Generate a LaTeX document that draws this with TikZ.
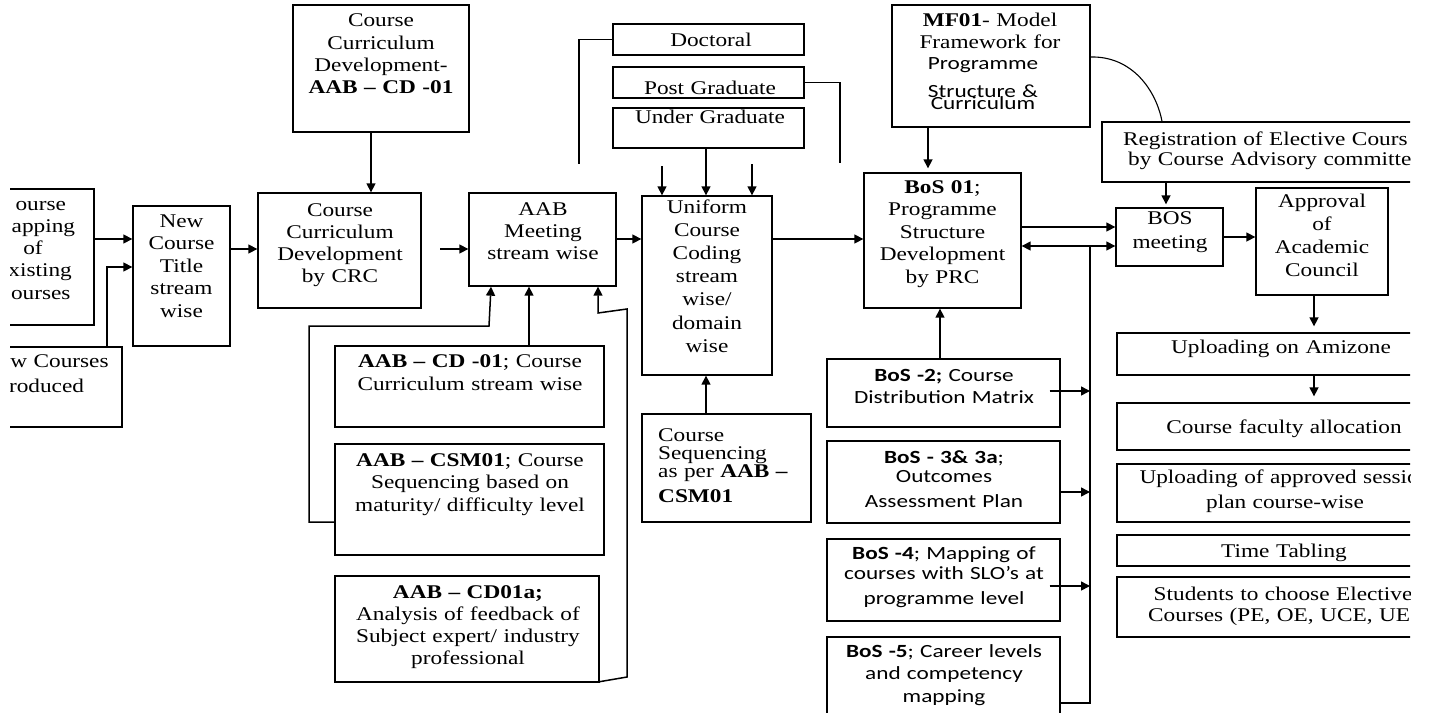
\documentclass[tikz,border=0pt]{standalone}
\usepackage{fontspec}
\setmainfont{Liberation Serif}[FakeStretch=1.2]
\newfontfamily\sansfam{Carlito}[FakeStretch=1.25]
\usetikzlibrary{arrows.meta,fit}
\begin{document}
\begin{tikzpicture}[x=1pt,y=-1pt,
  box/.style={draw, line width=1.35pt, inner sep=0pt, rectangle},
  txt/.style={anchor=base, inner sep=0pt, align=center, text width=330pt,
    font=\fontsize{19.4}{22}\selectfont},
  ltxt/.style={anchor=base west, inner sep=0pt, align=left, text width=200pt,
    font=\fontsize{19.4}{22}\selectfont},
  stxt/.style={anchor=base, inner sep=0pt, align=center, text width=300pt,
    font=\sansfam\fontsize{18.6}{22.5}\selectfont},
  ln/.style={line width=1.5pt},
  arr/.style={line width=1.5pt, -{Triangle[length=9pt,width=9pt]}},
]
\useasboundingbox (0,0) rectangle (1434,712);
\begin{scope}
\clip (10,-20) rectangle (1410,712);

% ---------- boxes ----------
\node[box, fit={(-20,189) (94,325)}]   (lb1)   {};
\node[box, fit={(-20,347) (122,427)}]  (wc)    {};
\node[box, fit={(133,206) (230,346)}]  (newc)  {};
\node[box, fit={(293,5) (469,132)}]    (cdtop) {};
\node[box, fit={(258,193) (421,308)}]  (crc)   {};
\node[box, fit={(469,193) (616,286)}]  (aabm)  {};
\node[box, fit={(335,346) (604,427)}]  (cd01)  {};
\node[box, fit={(335,444) (604,555)}]  (csm)   {};
\node[box, fit={(335,576) (599,682)}]  (cd01a) {};
\node[box, fit={(613,24) (804,55)}]    (doct)  {};
\node[box, fit={(613,67) (804,98)}]    (pg)    {};
\node[box, fit={(613,108) (804,148)}]  (ug)    {};
\node[box, fit={(642,196) (772,375)}]  (unif)  {};
\node[box, fit={(642,414) (811,522)}]  (cseq)  {};
\node[box, fit={(864,173) (1021,308)}] (bos01) {};
\node[box, fit={(892,5) (1090,127)}]   (mf01)  {};
\node[box, fit={(827,359) (1060,427)}] (bos2)  {};
\node[box, fit={(827,441) (1060,523)}] (bos3)  {};
\node[box, fit={(827,539) (1060,621)}] (bos4)  {};
\node[box, fit={(827,637) (1060,740)}] (bos5)  {};
\node[box, fit={(1102,122) (1450,182)}] (reg)  {};
\node[box, fit={(1116,208) (1223,266)}] (bosm) {};
\node[box, fit={(1256,188) (1388,295)}] (appr) {};
\node[box, fit={(1117,333) (1450,375)}] (upl)  {};
\node[box, fit={(1117,403) (1450,450)}] (fac)  {};
\node[box, fit={(1117,464) (1450,522)}] (sess) {};
\node[box, fit={(1117,535) (1450,566)}] (tt)   {};
\node[box, fit={(1117,577) (1450,637)}] (stud) {};

% ---------- texts ----------
\node[txt, font=\fontsize{19.4}{22.3}\selectfont] (lb1-t) at (33,210)
  {\phantom{C}ourse\\\phantom{M}apping\\of\\\phantom{E}xisting\\\phantom{C}ourses};
\node[ltxt, font=\fontsize{19.4}{25}\selectfont] (wc-t) at (-17,367)
  {\phantom{Ne}w Courses\\\phantom{Int}roduced};
\node[txt, font=\fontsize{19.4}{22.5}\selectfont] (newc-t) at (181.5,227)
  {New\\Course\\Title\\stream\\wise};
\node[txt, font=\fontsize{19.4}{22.3}\selectfont] (cdtop-t) at (381,27)
  {Course\\Curriculum\\Development-\\\textbf{AAB – CD -01}};
\node[txt, font=\fontsize{19.4}{22.3}\selectfont] (crc-t) at (340,216)
  {Course\\Curriculum\\Development\\by CRC};
\node[txt] (aabm-t) at (543,215) {AAB\\Meeting\\stream wise};
\node[txt, font=\fontsize{19.4}{23}\selectfont] (cd01-t) at (470,367)
  {\textbf{AAB – CD -01}; Course\\Curriculum stream wise};
\node[txt, font=\fontsize{19.4}{22.5}\selectfont] (csm-t) at (470,466)
  {\textbf{AAB – CSM01}; Course\\Sequencing based on\\maturity/ difficulty level};
\node[txt] (cd01a-t) at (468,598)
  {\textbf{AAB – CD01a;}\\Analysis of feedback of\\Subject expert/ industry\\professional};
\node[txt] (doct-t) at (711,46) {Doctoral};
\node[txt] (pg-t) at (710,94) {Post Graduate};
\node[txt] (ug-t) at (710,123) {Under Graduate};
\node[txt, font=\fontsize{19.4}{23.2}\selectfont] (unif-t) at (707,213)
  {Uniform\\Course\\Coding\\stream\\wise/\\domain\\wise};
\node[ltxt] (cseq-t) at (658,441)
  {Course\\[-4pt]Sequencing\\[-4pt]as per \textbf{AAB –}\\[3pt]\textbf{CSM01}};
\node[txt, font=\fontsize{19.4}{22.5}\selectfont] (bos01-t) at (942.5,193)
  {\textbf{BoS 01};\\Programme\\Structure\\Development\\by PRC};
\node[txt, font=\fontsize{19.4}{21}\selectfont] (mf01-ta) at (990,27)
  {\textbf{MF01}- Model\\Framework for};
\node[stxt] (mf01-tb) at (983,69)
  {Programme\\[5.5pt]Structure \&\\[-10pt]Curriculum};
\node[txt, font=\fontsize{19.4}{20}\selectfont] (reg-t) at (1275,145)
  {Registration of Elective Cours\phantom{es}\\by Course Advisory committe\phantom{e}};
\node[txt, font=\fontsize{19.4}{24}\selectfont] (bosm-t) at (1170,224) {BOS\\meeting};
\node[txt, font=\fontsize{19.4}{23}\selectfont] (appr-t) at (1322,207)
  {Approval\\of\\Academic\\Council};
\node[txt] (upl-t) at (1281,353) {Uploading on Amizone};
\node[txt] (fac-t) at (1284,433) {Course faculty allocation};
\node[txt, font=\fontsize{19.4}{25}\selectfont] (sess-t) at (1285,483)
  {Uploading of approved sessio\phantom{n}\\plan course-wise};
\node[txt] (tt-t) at (1284,557) {Time Tabling};
\node[txt, font=\fontsize{19.4}{21}\selectfont] (stud-t) at (1283,600)
  {Students to choose Elective\\Courses (PE, OE, UCE, UE\phantom{)}};
\node[stxt, font=\sansfam\fontsize{18.6}{22}\selectfont] (bos2-t) at (944,381)
  {\textbf{BoS -2;} Course\\Distribution Matrix};
\node[stxt, font=\sansfam\fontsize{18.6}{22}\selectfont] (bos3-t) at (944,463)
  {\textbf{BoS - 3\& 3a};\\[-3pt]Outcomes\\[3pt]Assessment Plan};
\node[stxt, font=\sansfam\fontsize{18.6}{20}\selectfont] (bos4-t) at (944,559)
  {\textbf{BoS -4}; Mapping of\\courses with SLO’s at\\[5pt]programme level};
\node[stxt] (bos5-t) at (944,657)
  {\textbf{BoS -5}; Career levels\\and competency\\mapping};

% ---------- free ends and junctions ----------
\coordinate (crc-out) at (440,249);
\coordinate (inl) at (662,166);
\coordinate (inr) at (752,164);
\coordinate (bus) at (1090,246);
\coordinate (busend) at (1090,703);

% ---------- connectors ----------
\draw[arr] (lb1.east |- 0,239) -- (newc.west |- 0,239);
\draw[arr] (wc.north -| 107,0) -- (107,267) -- (newc.west |- 0,267);
\draw[arr] (newc.east |- 0,249) -- (crc.west |- 0,249);
\draw[arr] (cdtop.south -| 371,0) -- (crc.north -| 371,0);
\draw[arr] (crc-out) -- (aabm.west |- crc-out);
\draw[arr] (aabm.east |- 0,239) -- (unif.west |- 0,239);
\draw[arr] (cd01.north -| 529,0) -- (aabm.south -| 529,0);
\draw[arr] (csm.west |- 0,522) -- (309,522) -- (309,326) -- (489,326) -- (aabm.south -| 491,0);
\draw[arr] (cd01a.south east) ++(0,-1) -- (627,677) -- (627,309) -- (598,313) -- (aabm.south -| 598,0);
\draw[ln] (doct.west) -| (579,164);
\draw[ln] (pg.east) -| (840,163);
\draw[arr] (inl) -- (unif.north -| inl);
\draw[arr] (inr) -- (unif.north -| inr);
\draw[arr] (ug.south -| 706,0) -- (unif.north -| 706,0);
\draw[arr] (cseq.north -| 706,0) -- (unif.south -| 706,0);
\draw[arr] (unif.east |- 0,239) -- (bos01.west |- 0,239);
\draw[arr, shorten >=4pt] (mf01.south -| 928,0) -- (bos01.north -| 928,0);
\draw[line width=1.1pt] (mf01.east |- 0,57) .. controls (1132,56) and (1156,90) .. (reg.north -| 1162,0);
\draw[arr, shorten >=3pt] (reg.south -| 1166,0) -- (bosm.north -| 1166,0);
\draw[arr] (bos01.east |- 0,227) -- (bosm.west |- 0,227);
\draw[ln] (bos5.east |- busend) -- (busend) -- (bus);
\draw[arr] (bus) -- (bos01.east |- bus);
\draw[arr] (bus) -- (bosm.west |- bus);
\draw[arr] (bos2.east |- 0,391) ++(-11,0) -- (bus |- 0,391);
\draw[arr] (bos3.east |- 0,492) -- (bus |- 0,492);
\draw[arr] (bos4.east |- 0,586) ++(-11,0) -- (bus |- 0,586);
\draw[arr] (bos2.north -| 940,0) -- (bos01.south -| 940,0);
\draw[arr] (bosm.east |- 0,237) -- (appr.west |- 0,237);
\draw[arr, shorten >=6pt] (appr.south -| 1314,0) -- (upl.north -| 1314,0);
\draw[arr, shorten >=6pt] (upl.south -| 1314,0) -- (fac.north -| 1314,0);
\end{scope}
\end{tikzpicture}
\end{document}
